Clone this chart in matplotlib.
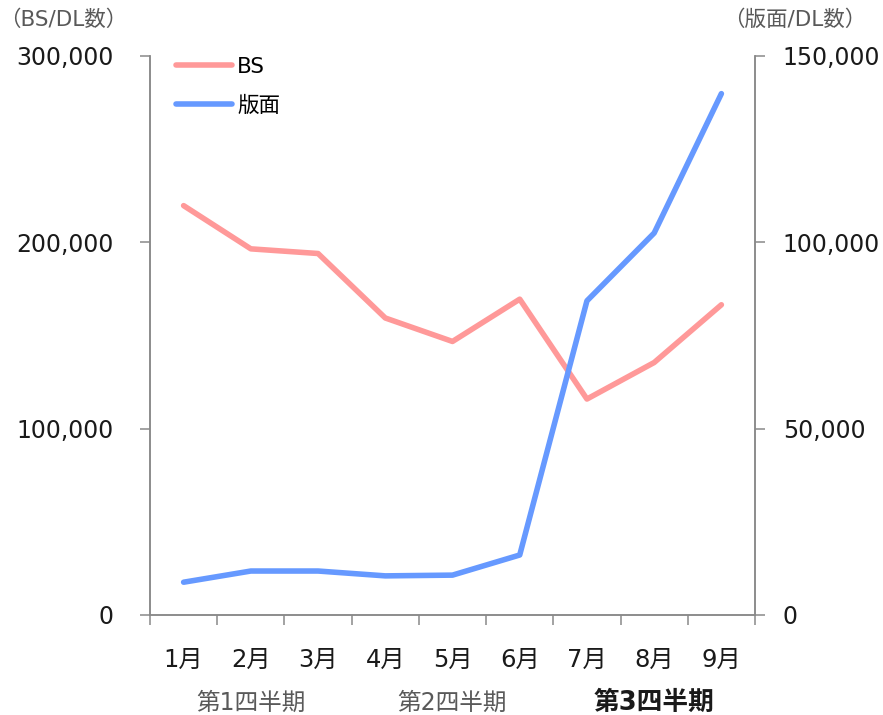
import matplotlib

matplotlib.use("Agg")
import matplotlib.pyplot as plt
from matplotlib.lines import Line2D
from matplotlib.ticker import FuncFormatter, FixedLocator
from matplotlib.transforms import blended_transform_factory

plt.rcParams["font.family"] = ["DejaVu Sans", "Noto Sans CJK JP"]

months = ["1月", "2月", "3月", "4月", "5月", "6月", "7月", "8月", "9月"]
quarters = ["第1四半期", "第2四半期", "第3四半期"]
bs_counts = [219700, 196500, 194000, 159400, 146800, 169500, 115900, 135500, 166500]
edition_counts = [8800, 11800, 11800, 10500, 10700, 16100, 84300, 102500, 139900]

left_ticks = [0, 100000, 200000, 300000]
right_ticks = [0, 50000, 100000, 150000]

BS_COLOR = "#FF9999"
EDITION_COLOR = "#6699FF"
AXIS_COLOR = "#898989"
TEXT_COLOR = "#1a1a1a"
NOTE_COLOR = "#595959"
LINE_W = 4.0

fig = plt.figure(figsize=(8.83, 7.15), dpi=100)
ax = fig.add_axes([150 / 883, 1 - 615 / 715, 605 / 883, 559 / 715])
ax2 = ax.twinx()

x = list(range(len(months)))
ax.plot(x, bs_counts, color=BS_COLOR, linewidth=LINE_W, solid_capstyle="round",
        solid_joinstyle="round", label="BS")
ax2.plot(x, edition_counts, color=EDITION_COLOR, linewidth=LINE_W, solid_capstyle="round",
         solid_joinstyle="round", label="版面")

ax.set_xlim(-0.5, len(months) - 0.5)
ax.set_ylim(0, 300000)
ax2.set_ylim(0, 150000)

# category boundaries get tick marks, month names sit between them
ax.xaxis.set_major_locator(FixedLocator([i - 0.5 for i in range(len(months) + 1)]))
ax.xaxis.set_minor_locator(FixedLocator(x))
ax.set_xticklabels([], minor=False)
ax.set_xticklabels(months, minor=True)
ax.tick_params(axis="x", which="major", direction="out", length=7, width=1.1, color=AXIS_COLOR)
ax.tick_params(axis="x", which="minor", length=0, pad=24, labelsize=17.5, labelcolor=TEXT_COLOR)

fmt = FuncFormatter(lambda v, _: f"{int(v):,}")
ax.set_yticks(left_ticks)
ax.yaxis.set_major_formatter(fmt)
ax.tick_params(axis="y", direction="out", length=7, width=1.1, color=AXIS_COLOR,
               pad=19, labelsize=17, labelcolor=TEXT_COLOR)
ax2.set_yticks(right_ticks)
ax2.yaxis.set_major_formatter(fmt)
ax2.tick_params(axis="y", direction="out", length=7, width=1.1, color=AXIS_COLOR,
                pad=13, labelsize=17, labelcolor=TEXT_COLOR)

for a in (ax, ax2):
    a.spines["top"].set_visible(False)
    for side in ("left", "right", "bottom"):
        a.spines[side].set_color(AXIS_COLOR)
        a.spines[side].set_linewidth(1.1)

# quarter captions under each group of three months, the current one in bold
quarter_trans = blended_transform_factory(ax.transData, fig.transFigure)
for i, q in enumerate(quarters):
    bold = i == len(quarters) - 1
    ax.text(i * 3 + 1, 1 - 703 / 715, q, transform=quarter_trans,
            ha="center", va="center", fontsize=18.5 if bold else 17,
            fontweight="bold" if bold else "normal",
            color=TEXT_COLOR if bold else NOTE_COLOR)

fig.text(63 / 883, 1 - 20 / 715, "（BS/DL数）", ha="center", va="center",
         fontsize=15.5, color=NOTE_COLOR)
fig.text(795 / 883, 1 - 20 / 715, "（版面/DL数）", ha="center", va="center",
         fontsize=15.5, color=NOTE_COLOR)

handles = [
    Line2D([], [], color=BS_COLOR, linewidth=LINE_W, solid_capstyle="round"),
    Line2D([], [], color=EDITION_COLOR, linewidth=LINE_W, solid_capstyle="round"),
]
ax2.legend(handles, ["BS", "版面"], loc="upper left",
           bbox_to_anchor=(176 / 883, 1 - 57 / 715), bbox_transform=fig.transFigure,
           frameon=False, fontsize=15.5, handlelength=2.6, handletextpad=0.25,
           labelspacing=0.85, borderpad=0, borderaxespad=0)

fig.savefig("out.png", dpi=100)
